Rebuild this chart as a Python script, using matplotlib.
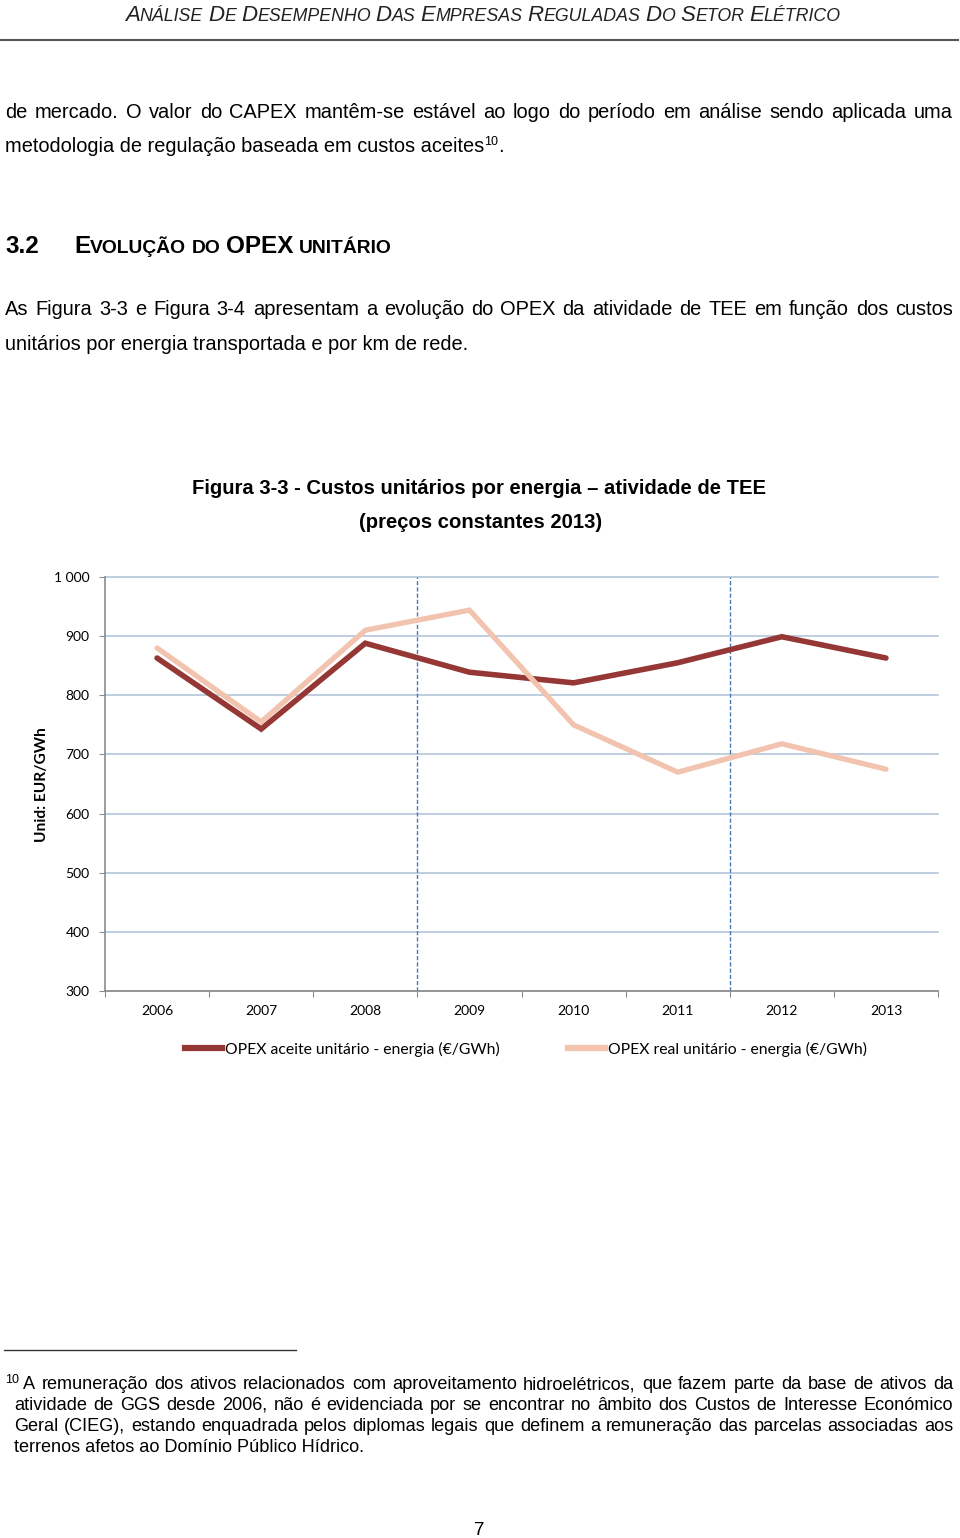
import numpy as np
import matplotlib.pyplot as plt
from matplotlib.lines import Line2D

# dados da figura 3-3
anos = ['2006', '2007', '2008', '2009', '2010', '2011', '2012', '2013']
opex_aceite = [863, 743, 888, 839, 821, 855, 899, 863]
opex_real = [880, 755, 910, 944, 750, 670, 718, 675]
y_ticks = [300, 400, 500, 600, 700, 800, 900, 1000]
y_tick_labels = ['300', '400', '500', '600', '700', '800', '900', '1 000']
quebras = [2.5, 5.5]

W, H = 960, 1538
BODY = 'Liberation Sans'
CHART = 'Lato'

fig = plt.figure(figsize=(W / 100, H / 100), dpi=100)
rend = fig.canvas.get_renderer()


def fx(x):
    return x / W


def fy(y):
    return 1 - y / H


def put(x, y, s, **kw):
    kw.setdefault('family', BODY)
    kw.setdefault('fontsize', 14.4)
    return fig.text(fx(x), fy(y), s, va='baseline', **kw)


def largura(t):
    return t.get_window_extent(rend).width


def justificar(x0, x1, y, linha, **kw):
    palavras = linha.split()
    ts = [put(x0, y, p, **kw) for p in palavras]
    ws = [largura(t) for t in ts]
    gap = (x1 - x0 - sum(ws)) / (len(palavras) - 1)
    x = x0
    for t, w in zip(ts, ws):
        t.set_x(fx(x))
        x += w + gap


def cadeia(x, y, pecas, **kw):
    # pecas: (texto, tamanho, deslocamento vertical em px)
    for s, size, dy in pecas:
        if s == ' ':
            x += 0.278 * size * 100 / 72
            continue
        t = put(x, y - dy, s, fontsize=size, **kw)
        x += largura(t)
    return x


def versaletes(texto, grande, pequeno):
    pecas = []
    for i, p in enumerate(texto.split()):
        if i:
            pecas.append((' ', pequeno, 0))
        pecas.append((p[0], grande, 0))
        if len(p) > 1:
            pecas.append((p[1:], pequeno, 0))
    return pecas


# cabecalho
cadeia(125, 21, versaletes('ANÁLISE DE DESEMPENHO DAS EMPRESAS REGULADAS DO SETOR ELÉTRICO', 16, 12.8),
       style='italic', color='#222222')
fig.add_artist(Line2D([0, 958 / W], [fy(40), fy(40)], color='#555555', lw=1.5))

# texto
justificar(5, 953, 118, 'de mercado. O valor do CAPEX mantêm-se estável ao logo do período em análise sendo aplicada uma')
cadeia(5, 152, [('metodologia de regulação baseada em custos aceites', 14.4, 0), ('10', 9, 7), ('.', 14.4, 0)])

put(5, 253, '3.2', fontsize=17.5, weight='bold')
cadeia(74, 253, [('E', 17.5, 0), ('VOLUÇÃO', 13.9, 0), (' ', 13.9, 0), ('DO', 13.9, 0), (' ', 13.9, 0),
                 ('OPEX', 17.5, 0), (' ', 13.9, 0), ('UNITÁRIO', 13.9, 0)], weight='bold')

justificar(5, 953, 315, 'As Figura 3-3 e Figura 3-4 apresentam a evolução do OPEX da atividade de TEE em função dos custos')
put(5, 350, 'unitários por energia transportada e por km de rede.')

# titulo do grafico
fig.text(fx(479), fy(494), 'Figura 3-3 - Custos unitários por energia – atividade de TEE', ha='center',
         va='baseline', family=BODY, fontsize=14.6, weight='bold')
fig.text(fx(481), fy(528), '(preços constantes 2013)', ha='center', va='baseline', family=BODY,
         fontsize=14.6, weight='bold')

# grafico
ax = fig.add_axes([fx(105), fy(991), 833 / W, 414 / H])
x = np.arange(len(anos))
ax.plot(x, opex_aceite, color='#953735', lw=4, solid_capstyle='round', solid_joinstyle='miter', zorder=3)
ax.plot(x, opex_real, color='#F2C3AE', lw=3.8, solid_capstyle='round', solid_joinstyle='miter', zorder=4)
for q in quebras:
    ax.axvline(q, color='#4A78AE', lw=1, ls=(0, (3, 1.5)), zorder=2)

ax.set_xlim(-0.5, 7.5)
ax.set_ylim(300, 1000)
ax.set_yticks(y_ticks)
ax.set_yticklabels(y_tick_labels)
ax.set_xticks(np.arange(-0.5, 8, 1))
ax.set_xticklabels([])
ax.set_xticks(x, minor=True)
ax.set_xticklabels(anos, minor=True)
ax.yaxis.grid(True, color='#B9CADD', lw=1.3)
for gl in ax.get_ygridlines():
    gl.set_clip_on(False)
ax.set_axisbelow(True)
for s in ['top', 'right']:
    ax.spines[s].set_visible(False)
for s in ['left', 'bottom']:
    ax.spines[s].set_color('#8C8C8C')
    ax.spines[s].set_linewidth(1.2)
ax.tick_params(axis='y', length=4, color='#8C8C8C', pad=7, labelsize=10, labelfontfamily=CHART)
ax.tick_params(axis='x', which='major', length=4, color='#8C8C8C')
ax.tick_params(axis='x', which='minor', length=0, pad=10, labelsize=10, labelfontfamily=CHART)

fig.text(fx(42), fy(785), 'Unid: EUR/GWh', rotation=90, ha='center', va='center', family=CHART,
         fontsize=11.2, weight='bold')

handles = [Line2D([], [], color='#953735', lw=4.5), Line2D([], [], color='#F2C3AE', lw=4.5)]
fig.legend(handles, ['OPEX aceite unitário - energia (€/GWh)', 'OPEX real unitário - energia (€/GWh)'],
           loc='center', bbox_to_anchor=(fx(526), fy(1049)), ncol=2, frameon=False,
           prop={'family': CHART, 'size': 11.3}, handlelength=2.36, handletextpad=0.15, columnspacing=4.4)

# nota de rodape
fig.add_artist(Line2D([4 / W, 296 / W], [fy(1350), fy(1350)], color='#333333', lw=1))
put(5, 1383, '10', fontsize=9)
justificar(23, 953, 1389, 'A remuneração dos ativos relacionados com aproveitamento hidroelétricos, que fazem parte da base de ativos da', fontsize=13.1)
justificar(14, 953, 1410, 'atividade de GGS desde 2006, não é evidenciada por se encontrar no âmbito dos Custos de Interesse Económico', fontsize=13.1)
justificar(14, 953, 1431, 'Geral (CIEG), estando enquadrada pelos diplomas legais que definem a remuneração das parcelas associadas aos', fontsize=13.1)
put(14, 1452, 'terrenos afetos ao Domínio Público Hídrico.', fontsize=13.1)

fig.text(fx(479), fy(1535), '7', ha='center', va='baseline', family=BODY, fontsize=13.5)

fig.savefig('out.png', dpi=100)
